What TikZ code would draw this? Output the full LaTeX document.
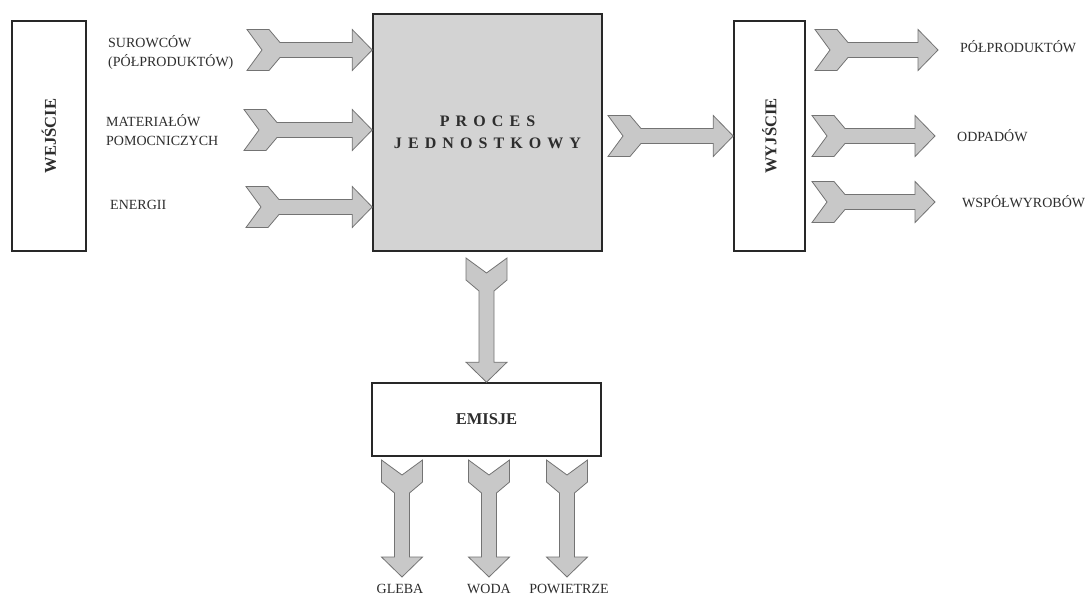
\documentclass[tikz,border=0pt]{standalone}
\usepackage{fontspec}
\setmainfont{Liberation Serif}
\usetikzlibrary{calc}
\definecolor{procgray}{RGB}{211,211,211}
\definecolor{arrgray}{RGB}{200,200,200}
\definecolor{arredge}{RGB}{115,115,115}
\definecolor{boxedge}{RGB}{40,40,40}
\definecolor{txt}{RGB}{45,45,45}

\newcommand\fatarrow[2]{%
  \path let \p1=(#1), \p2=(#2),
    \n1={atan2(\y2-\y1,\x2-\x1)}, \n2={veclen(\x2-\x1,\y2-\y1)} in
    \pgfextra{\xdef\faang{\n1}\xdef\falen{\n2}\xdef\fax{\x1}\xdef\fay{\y1}};
  \filldraw[flowarrow, shift={(\fax,\fay)}, rotate=\faang]
    (0,20.5) -- (22,20.5) -- (33,7.5) -- (\falen-20,7.5) -- (\falen-20,20.5) -- (\falen,0)
    -- (\falen-20,-20.5) -- (\falen-20,-7.5) -- (33,-7.5) -- (22,-20.5) -- (0,-20.5) -- (15,0) -- cycle;
}

\begin{document}
\begin{tikzpicture}[x=1pt,y=-1pt,
  box/.style={draw=boxedge, line width=1.6pt, fill=white, inner sep=0pt, text=txt},
  flowarrow/.style={fill=arrgray, draw=arredge, line width=0.8pt, line join=miter},
  lab/.style={font=\fontsize{14}{19}\selectfont, text=txt, inner sep=0pt}]
\useasboundingbox[fill=white] (0,0) rectangle (1091,604);

% boxes
\node[box, minimum width=74pt, minimum height=230pt, font=\fontsize{16.5}{20}\selectfont\bfseries]
  (wej) at (49,136) {\rotatebox{90}{WEJŚCIE}};
\node[box, fill=procgray, minimum width=229pt, minimum height=237pt, align=center,
  font=\fontsize{16}{22}\selectfont\bfseries\addfontfeature{LetterSpace=38}]
  (proc) at (487.5,132.5) {PROCES\\JEDNOSTKOWY};
\node[box, minimum width=71pt, minimum height=230pt, font=\fontsize{16.5}{20}\selectfont\bfseries]
  (wyj) at (769.5,136) {\rotatebox{90}{WYJŚCIE}};
\node[box, minimum width=229pt, minimum height=73pt, font=\fontsize{16.5}{20}\selectfont\bfseries]
  (emi) at (486.5,419.5) {EMISJE};

% input labels
\node[lab, anchor=west, align=left] (l1) at (108,52) {SUROWCÓW\\(PÓŁPRODUKTÓW)};
\node[lab, anchor=west, align=left] (l2) at (106,130) {MATERIAŁÓW\\POMOCNICZYCH};
\node[lab, anchor=west] (l3) at (110,205) {ENERGII};

% output labels
\node[lab, anchor=west] (r1) at (960,47) {PÓŁPRODUKTÓW};
\node[lab, anchor=west] (r2) at (957,136) {ODPADÓW};
\node[lab, anchor=west] (r3) at (962,202) {WSPÓŁWYROBÓW};

% emission labels
\node[lab] (e1) at (400,589) {GLEBA};
\node[lab] (e2) at (489,589) {WODA};
\node[lab] (e3) at (569,589) {POWIETRZE};

% arrow tails / heads
\coordinate (i1) at (247,50);
\coordinate (i2) at (244,130);
\coordinate (i3) at (246,207);
\coordinate (m1) at (608,136);
\coordinate (o1) at (815,50);  \coordinate (o1e) at (938,50);
\coordinate (o2) at (812,136); \coordinate (o2e) at (935,136);
\coordinate (o3) at (812,202); \coordinate (o3e) at (935,202);
\coordinate (d0) at (486.5,258);
\coordinate (b1) at (402,460); \coordinate (b1e) at (402,577);
\coordinate (b2) at (489,460); \coordinate (b2e) at (489,577);
\coordinate (b3) at (567,460); \coordinate (b3e) at (567,577);

\fatarrow{i1}{i1 -| proc.west}
\fatarrow{i2}{i2 -| proc.west}
\fatarrow{i3}{i3 -| proc.west}
\fatarrow{m1}{m1 -| wyj.west}
\fatarrow{o1}{o1e}
\fatarrow{o2}{o2e}
\fatarrow{o3}{o3e}
\fatarrow{d0}{d0 |- emi.north}
\fatarrow{b1}{b1e}
\fatarrow{b2}{b2e}
\fatarrow{b3}{b3e}
\end{tikzpicture}
\end{document}
